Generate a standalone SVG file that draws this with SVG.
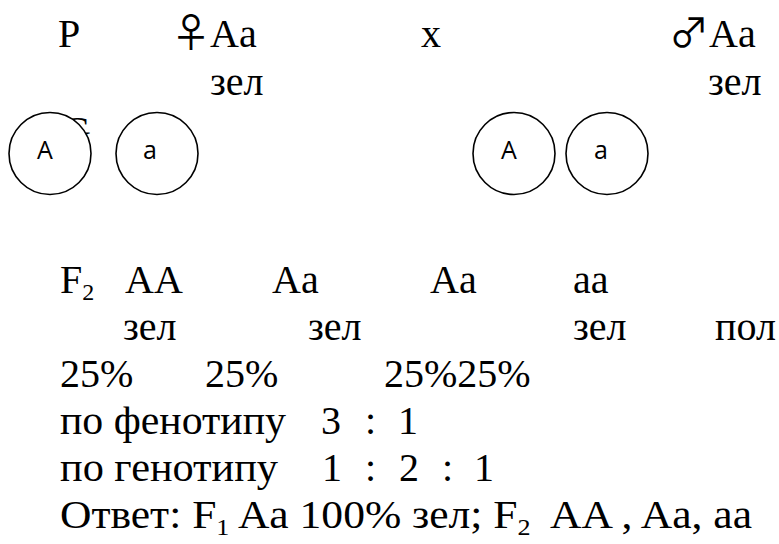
<svg xmlns="http://www.w3.org/2000/svg" width="779" height="544" viewBox="0 0 779 544">
<style>
.t{font-family:'Liberation Serif','Times New Roman',serif;font-size:40px;fill:#000}
.sub{font-size:24px}
.sym{font-family:'Noto Sans CJK JP','Noto Sans CJK SC','DejaVu Sans',sans-serif}
.g{fill:#fff;stroke:#000;stroke-width:1.6}
.gt{font-family:'Open Sans','Liberation Sans',sans-serif;font-size:25px;fill:#000;text-anchor:middle}
</style>
<rect width="779" height="544" fill="#fff"/>
<g id="parents">
<text class="t" x="58" y="47">P</text>
<text class="t" x="171" y="47"><tspan class="sym">♀</tspan><tspan dx="-1">Aa</tspan></text>
<text class="t" x="421" y="47">x</text>
<text class="t" x="669" y="47"><tspan class="sym">♂</tspan>Aa</text>
<text class="t" x="210" y="95">зел</text>
<text class="t" x="708" y="95">зел</text>
<text class="t" x="62" y="144">G</text>
</g>
<g id="gamete-female-A"><circle class="g" cx="50" cy="153.5" r="41"/><text class="gt" x="45" y="159">A</text></g>
<g id="gamete-female-a"><circle class="g" cx="157" cy="153.5" r="41"/><text class="gt" x="150" y="159">a</text></g>
<g id="gamete-male-A"><circle class="g" cx="514" cy="153.5" r="41"/><text class="gt" x="509" y="159">A</text></g>
<g id="gamete-male-a"><circle class="g" cx="607" cy="153.5" r="41"/><text class="gt" x="601" y="159">a</text></g>
<g id="connectors"></g>
<g id="offspring">
<text class="t" x="60" y="293">F<tspan class="sub" dy="7">2</tspan></text>
<text class="t" x="125" y="293">AA</text>
<text class="t" x="272" y="293">Aa</text>
<text class="t" x="430" y="293">Aa</text>
<text class="t" x="573" y="293">aa</text>
<text class="t" x="123" y="340">зел</text>
<text class="t" x="308" y="340">зел</text>
<text class="t" x="573" y="340">зел</text>
<text class="t" x="715" y="340">пол</text>
<text class="t" x="60" y="387">25%</text>
<text class="t" x="205" y="387">25%</text>
<text class="t" x="384" y="387">25%25%</text>
<text class="t" x="60" y="434" textLength="226" lengthAdjust="spacingAndGlyphs">по фенотипу</text>
<text class="t" x="321" y="434">3</text>
<text class="t" x="365" y="434">:</text>
<text class="t" x="398" y="434">1</text>
<text class="t" x="60" y="481" textLength="218" lengthAdjust="spacingAndGlyphs">по генотипу</text>
<text class="t" x="322" y="481">1</text>
<text class="t" x="365" y="481">:</text>
<text class="t" x="399" y="481">2</text>
<text class="t" x="442" y="481">:</text>
<text class="t" x="474" y="481">1</text>
<text class="t" x="60" y="528" xml:space="preserve" textLength="692" lengthAdjust="spacingAndGlyphs">Ответ: F<tspan class="sub" dy="7">1</tspan><tspan dy="-7"> Aa 100% зел; F</tspan><tspan class="sub" dy="7">2</tspan><tspan dy="-7">  AA , Aa, aa</tspan></text>
</g>
</svg>
